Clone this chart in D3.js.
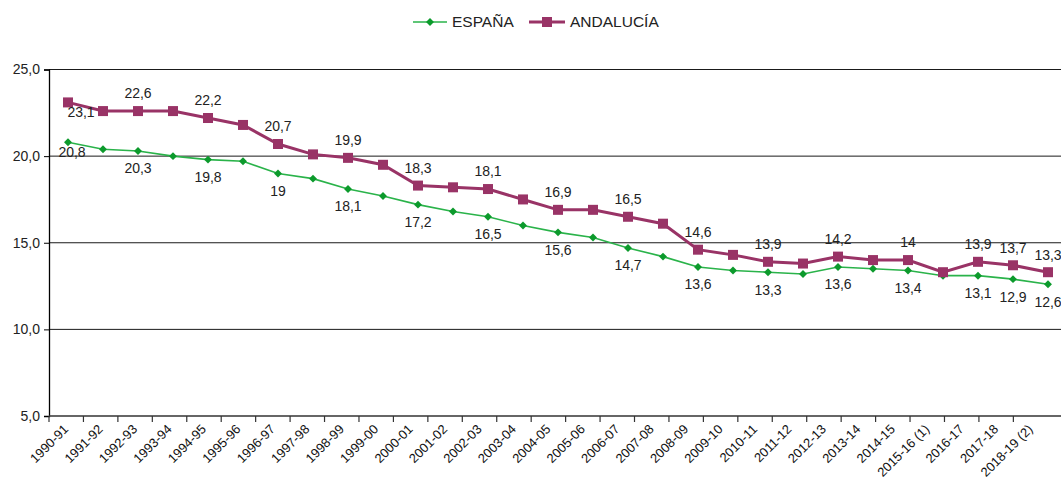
<!DOCTYPE html>
<html>
<head>
<meta charset="utf-8">
<script src="https://cdn.jsdelivr.net/npm/d3@7"></script>
<style>
  body { margin: 0; background: #fff; }
  svg { font-family: "Liberation Sans", Arial, sans-serif; }
</style>
</head>
<body>
<svg id="chart" width="1061" height="490"></svg>
<script>
const years = ["1990-91","1991-92","1992-93","1993-94","1994-95","1995-96","1996-97","1997-98",
  "1998-99","1999-00","2000-01","2001-02","2002-03","2003-04","2004-05","2005-06","2006-07",
  "2007-08","2008-09","2009-10","2010-11","2011-12","2012-13","2013-14","2014-15",
  "2015-16 (1)","2016-17","2017-18","2018-19 (2)"];
const espana = [20.8,20.4,20.3,20.0,19.8,19.7,19.0,18.7,18.1,17.7,17.2,16.8,16.5,16.0,15.6,15.3,
  14.7,14.2,13.6,13.4,13.3,13.2,13.6,13.5,13.4,13.1,13.1,12.9,12.6];
const andalucia = [23.1,22.6,22.6,22.6,22.2,21.8,20.7,20.1,19.9,19.5,18.3,18.2,18.1,17.5,16.9,16.9,
  16.5,16.1,14.6,14.3,13.9,13.8,14.2,14.0,14.0,13.3,13.9,13.7,13.3];
// which points carry a value label
const labelled = [0,2,4,6,8,10,12,14,16,18,20,22,24,26,27,28];
const yTicks = [5,10,15,20,25];

const svg = d3.select("#chart");
const width = 1061, height = 490;
const margin = { left: 49, top: 69.5, right: 0, bottom: 74 };

// axis bands (ticks between categories)
const x = d3.scaleBand().domain(years).range([margin.left, 1047.8]);
// marker positions, slightly wider spacing than the axis in the original
const xp = d3.scalePoint().domain(years).range([68, 1048]);
const y = d3.scaleLinear().domain([5, 25]).range([416, margin.top]);

const fmt = v => (Number.isInteger(v) ? String(v) : d3.format(".1f")(v).replace(".", ","));

// grid lines
svg.append("g").selectAll("line")
  .data(yTicks.filter(d => d > 5))
  .join("line")
    .attr("x1", margin.left).attr("x2", width)
    .attr("y1", d => y(d)).attr("y2", d => y(d))
    .attr("stroke", "#1a1a1a").attr("stroke-width", 1);

// y axis
const ya = svg.append("g")
  .attr("transform", `translate(${margin.left},0)`)
  .call(d3.axisLeft(y).tickValues(yTicks).tickSize(5).tickPadding(4)
    .tickFormat(d => d3.format(".1f")(d).replace(".", ",")));
ya.select(".domain").attr("stroke", "#000").attr("stroke-width", 1.3);
ya.selectAll("text").attr("font-size", 14).attr("fill", "#222")
  .attr("font-family", "'Liberation Sans', Arial, sans-serif");

// x axis
const xa = svg.append("g")
  .attr("transform", `translate(0,${y(5)})`)
  .call(d3.axisBottom(x).tickSize(0).tickFormat(d => d));
xa.select(".domain").remove();
xa.append("line").attr("x1", margin.left).attr("x2", width)
  .attr("stroke", "#333").attr("stroke-width", 1.3);
xa.selectAll(".tick line").remove();
xa.selectAll(".tick text")
  .attr("font-size", 13).attr("fill", "#111")
  .attr("font-family", "'Liberation Sans', Arial, sans-serif")
  .attr("text-anchor", "end")
  .attr("dy", null).attr("y", 0)
  .attr("transform", "translate(3,14) rotate(-45)");
// tick marks at category boundaries
xa.append("g").selectAll("line")
  .data(years)
  .join("line")
    .attr("x1", d => x(d)).attr("x2", d => x(d))
    .attr("y1", 0).attr("y2", 6)
    .attr("stroke", "#333").attr("stroke-width", 1.2);

const line = d3.line().x((d, i) => xp(years[i])).y(d => y(d));

// España
svg.append("path").datum(espana)
  .attr("d", line).attr("fill", "none")
  .attr("stroke", "#2ab34a").attr("stroke-width", 1.6);
svg.append("g").selectAll("path")
  .data(espana)
  .join("path")
    .attr("d", d3.symbol(d3.symbolDiamond2, 40))
    .attr("transform", (d, i) => `translate(${xp(years[i])},${y(d)})`)
    .attr("fill", "#0c9a2c");

// Andalucía
svg.append("path").datum(andalucia)
  .attr("d", line).attr("fill", "none")
  .attr("stroke", "#993366").attr("stroke-width", 3);
svg.append("g").selectAll("rect")
  .data(andalucia)
  .join("rect")
    .attr("x", (d, i) => xp(years[i]) - 5)
    .attr("y", d => y(d) - 5)
    .attr("width", 10).attr("height", 10)
    .attr("fill", "#993366");

// value labels
const lab = svg.append("g").attr("font-size", 14).attr("fill", "#222")
  .attr("text-anchor", "middle");
labelled.forEach(i => {
  const xe = xp(years[i]);
  lab.append("text")
    .attr("x", xe + (i === 0 ? 4 : 0))
    .attr("y", y(espana[i]) + (i === 0 ? 10 : 17.5))
    .attr("dy", "0.35em")
    .text(fmt(espana[i]));
  lab.append("text")
    .attr("x", xe + (i === 0 ? 13 : 0))
    .attr("y", y(andalucia[i]) + (i === 0 ? 10 : -17.5))
    .attr("dy", "0.35em")
    .text(fmt(andalucia[i]));
});

// legend
const leg = svg.append("g").attr("font-size", 15.5).attr("fill", "#222");
leg.append("line").attr("x1", 413).attr("x2", 447).attr("y1", 22).attr("y2", 22)
  .attr("stroke", "#2ab34a").attr("stroke-width", 1.6);
leg.append("path").attr("d", d3.symbol(d3.symbolDiamond2, 40))
  .attr("transform", "translate(430,22)").attr("fill", "#0c9a2c");
leg.append("text").attr("x", 452).attr("y", 22).attr("dy", "0.35em").text("ESPAÑA");
leg.append("line").attr("x1", 529).attr("x2", 565).attr("y1", 22).attr("y2", 22)
  .attr("stroke", "#993366").attr("stroke-width", 3);
leg.append("rect").attr("x", 542).attr("y", 17).attr("width", 10).attr("height", 10)
  .attr("fill", "#993366");
leg.append("text").attr("x", 570).attr("y", 22).attr("dy", "0.35em").text("ANDALUCÍA");
</script>
</body>
</html>
